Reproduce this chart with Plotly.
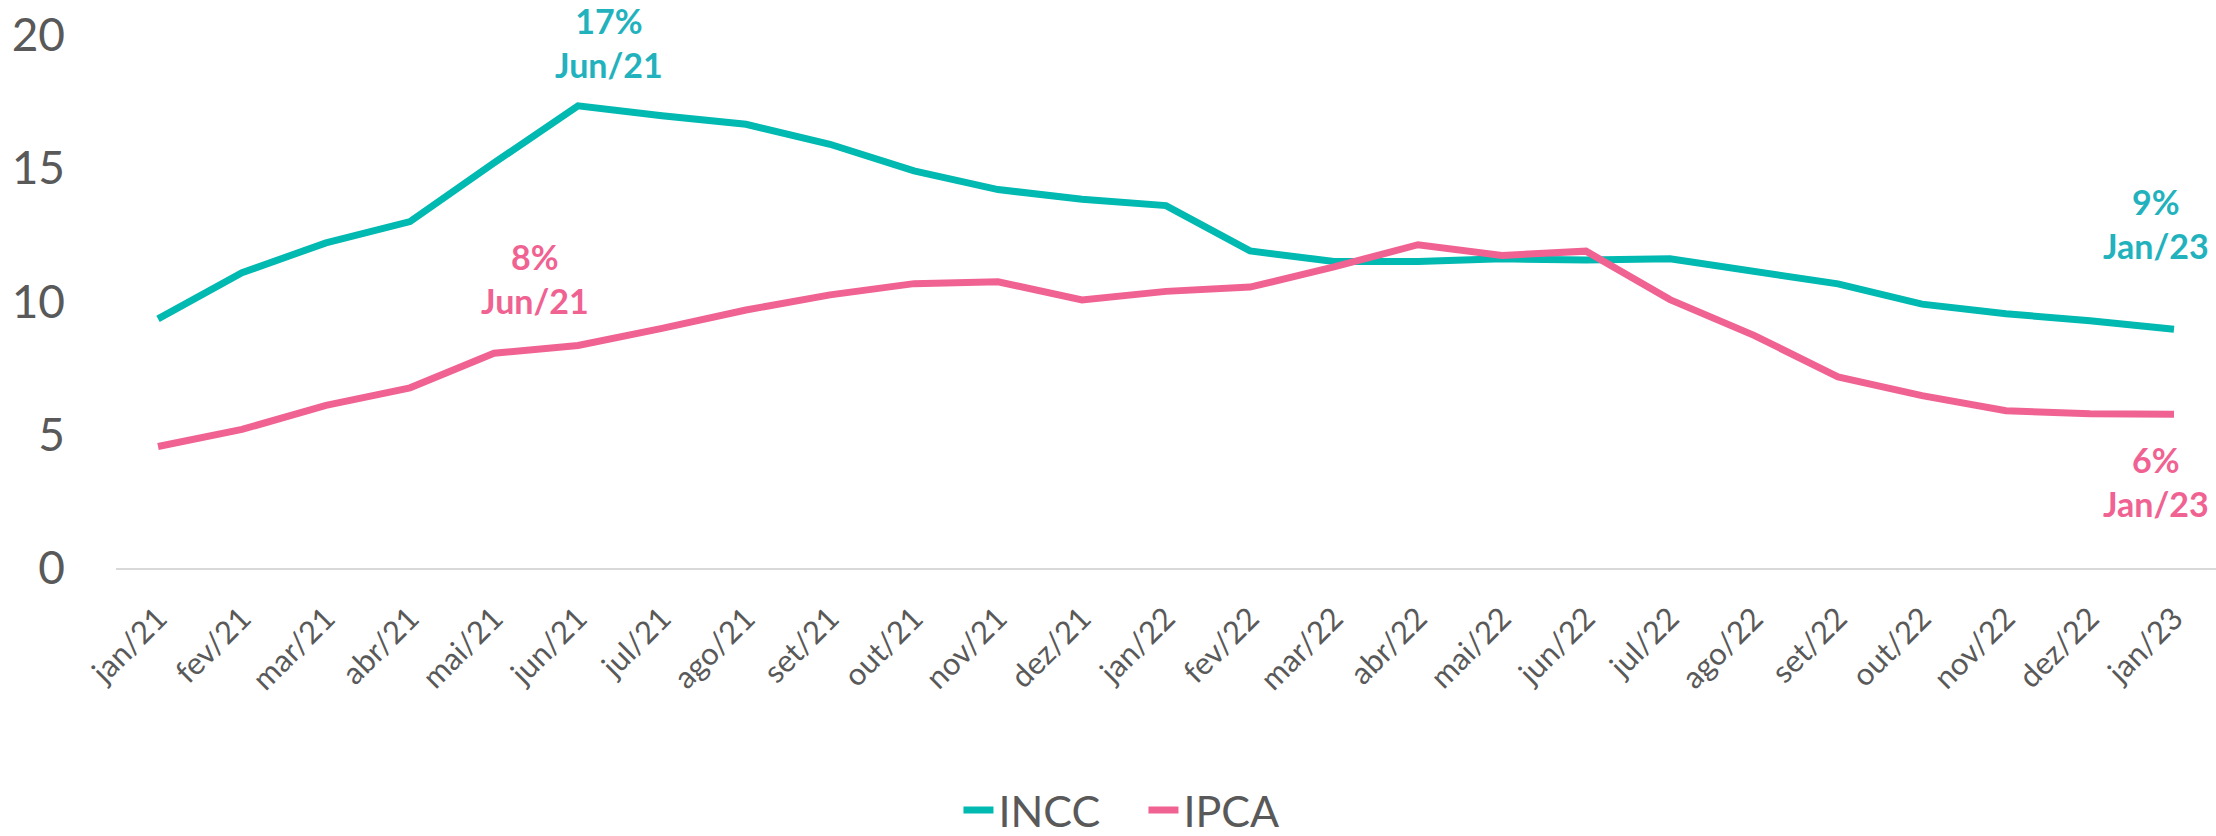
import plotly.graph_objects as go

# Monthly labels (12-month accumulated indices, %)
months = ["jan/21", "fev/21", "mar/21", "abr/21", "mai/21", "jun/21", "jul/21",
          "ago/21", "set/21", "out/21", "nov/21", "dez/21", "jan/22", "fev/22",
          "mar/22", "abr/22", "mai/22", "jun/22", "jul/22", "ago/22", "set/22",
          "out/22", "nov/22", "dez/22", "jan/23"]

incc = [9.35, 11.08, 12.2, 13.0, 15.2, 17.34, 16.97, 16.65, 15.9, 14.9, 14.2,
        13.84, 13.6, 11.9, 11.5, 11.5, 11.6, 11.56, 11.6, 11.13, 10.66, 9.9,
        9.54, 9.28, 8.96]

ipca = [4.56, 5.20, 6.10, 6.76, 8.06, 8.35, 8.99, 9.68, 10.25, 10.67, 10.74,
        10.06, 10.38, 10.54, 11.30, 12.13, 11.73, 11.89, 10.07, 8.73, 7.17,
        6.47, 5.90, 5.79, 5.77]

y_ticks = [0, 5, 10, 15, 20]

TEAL = "#00B9B1"
TEAL_TXT = "#22B2BD"
PINK = "#F06292"
GRAY = "#595959"
FONT = "Lato"

fig = go.Figure()
fig.add_trace(go.Scatter(x=months, y=incc, name="INCC", mode="lines",
                         line=dict(color=TEAL, width=7)))
fig.add_trace(go.Scatter(x=months, y=ipca, name="IPCA", mode="lines",
                         line=dict(color=PINK, width=7)))


def callout(idx, series, color, xshift, yshift):
    month = months[idx]
    label = month[:1].upper() + month[1:]
    fig.add_annotation(
        x=month, y=series[idx], xref="x", yref="y",
        text=f"<b>{round(series[idx]):.0f}%<br>{label}</b>",
        showarrow=False, xshift=xshift, yshift=yshift,
        font=dict(family=FONT, size=34, color=color),
        align="center", xanchor="center", yanchor="middle",
    )


peak = months.index("jun/21")
last = len(months) - 1
callout(peak, incc, TEAL_TXT, 31, 63)
callout(peak, ipca, PINK, -43, 67)
callout(last, incc, TEAL_TXT, -18, 106)
callout(last, ipca, PINK, -18, -67)

fig.update_layout(
    width=2216, height=836,
    margin=dict(l=116, r=0, t=35, b=268),
    paper_bgcolor="white", plot_bgcolor="white",
    font=dict(family=FONT, color=GRAY),
    showlegend=True,
    legend=dict(orientation="h", xref="container", yref="container",
                x=0.516, xanchor="center", y=0.031, yanchor="middle",
                font=dict(family=FONT, size=43, color=GRAY),
                itemwidth=30, entrywidth=140, tracegroupgap=0),
)
fig.update_xaxes(type="category", range=[-0.5, 24.5], tickangle=-45,
                 tickfont=dict(family=FONT, size=31, color=GRAY),
                 showgrid=False, zeroline=False, showline=True,
                 linecolor="#D9D9D9", linewidth=2, ticks="",
                 ticklabelstandoff=18)
fig.update_yaxes(range=[0, 20], tickvals=y_ticks, showgrid=False,
                 zeroline=False, showline=False, ticks="",
                 tickfont=dict(family=FONT, size=46, color=GRAY),
                 ticklabelstandoff=50)

fig.write_html("out.html")
